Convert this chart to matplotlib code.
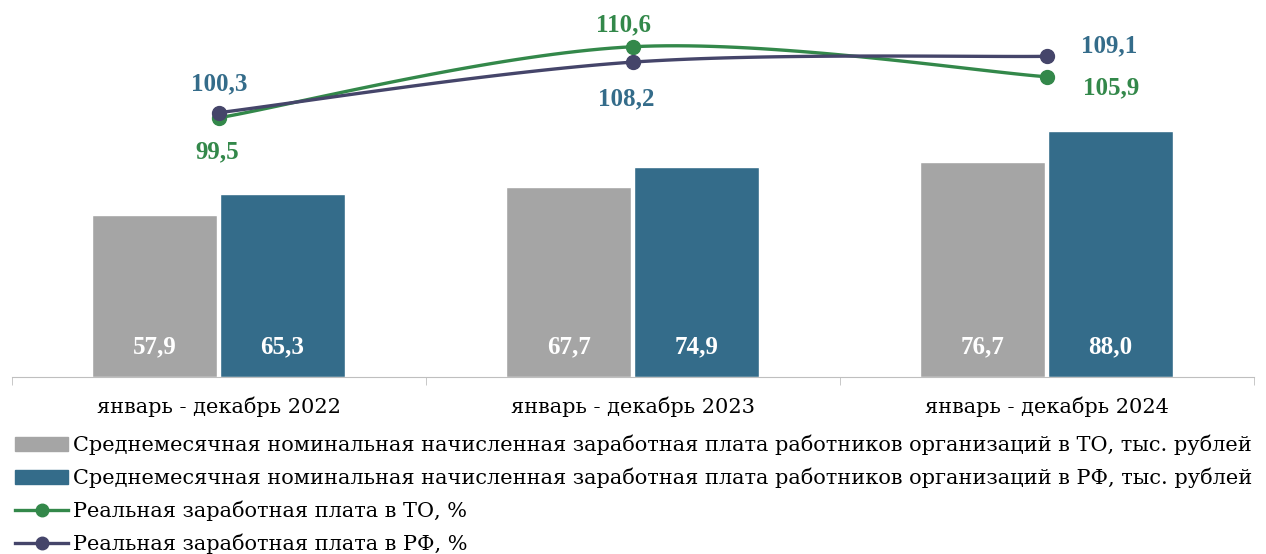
import numpy as np
import matplotlib.pyplot as plt
from matplotlib.lines import Line2D
from matplotlib.patches import Patch

plt.rcParams['font.family'] = ['DejaVu Serif']

periods = ['январь - декабрь 2022', 'январь - декабрь 2023', 'январь - декабрь 2024']
wage_to = [57.9, 67.7, 76.7]
wage_rf = [65.3, 74.9, 88.0]
real_to = [99.5, 110.6, 105.9]
real_rf = [100.3, 108.2, 109.1]

legend_names = [
    'Среднемесячная номинальная начисленная заработная плата работников организаций в ТО, тыс. рублей',
    'Среднемесячная номинальная начисленная заработная плата работников организаций в РФ, тыс. рублей',
    'Реальная заработная плата в ТО, %',
    'Реальная заработная плата в РФ, %',
]

GRAY = '#A5A5A5'
BLUE = '#346C8A'
GREEN = '#33884A'
NAVY = '#45456A'
NUM_FONT = 'Liberation Serif'


def smooth(xs, ys, n=40):
    # catmull-rom curve through the points, like excel's smoothed line
    p = np.column_stack([xs, ys]).astype(float)
    p = np.vstack([p[0], p, p[-1]])
    out = []
    t = np.linspace(0, 1, n)[:, None]
    for i in range(1, len(p) - 2):
        p0, p1, p2, p3 = p[i - 1], p[i], p[i + 1], p[i + 2]
        seg = 0.5 * ((2 * p1) + (-p0 + p2) * t + (2 * p0 - 5 * p1 + 4 * p2 - p3) * t ** 2
                     + (-p0 + 3 * p1 - 3 * p2 + p3) * t ** 3)
        out.append(seg)
    out = np.vstack(out)
    return out[:, 0], out[:, 1]


fig = plt.figure(figsize=(12.66, 5.54), dpi=100)
ax = fig.add_axes([12 / 1266, 177 / 554, 1242 / 1266, 377 / 554])
x = np.arange(len(periods))
w = 0.302
ax.bar(x - 0.155, wage_to, w, color=GRAY, edgecolor='white', linewidth=1)
ax.bar(x + 0.153, wage_rf, w, color=BLUE, edgecolor='white', linewidth=1)
for i in range(len(x)):
    ax.text(x[i] - 0.155, 10.8, f'{wage_to[i]:.1f}'.replace('.', ','), color='white',
            fontsize=18, fontweight='bold', ha='center', va='center', family=NUM_FONT)
    ax.text(x[i] + 0.153, 10.8, f'{wage_rf[i]:.1f}'.replace('.', ','), color='white',
            fontsize=18, fontweight='bold', ha='center', va='center', family=NUM_FONT)

ax.set_xlim(-0.5, 2.5)
ax.set_ylim(0, 134.6)
ax.set_yticks([])
for s in ['top', 'left', 'right']:
    ax.spines[s].set_visible(False)
ax.spines['bottom'].set_color('#BFBFBF')
ax.set_xticks(x)
ax.set_xticklabels(periods, fontsize=15)
ax.tick_params(axis='x', which='major', length=0, pad=14)
ax.set_xticks([-0.5, 0.5, 1.5, 2.5], minor=True)
ax.tick_params(axis='x', which='minor', length=6, color='#BFBFBF')

ax2 = ax.twinx()
ax2.set_ylim(59.0, 117.9)
ax2.axis('off')
sx, sy = smooth(x, real_to)
ax2.plot(sx, sy, color=GREEN, lw=2.4)
ax2.plot(x, real_to, 'o', color=GREEN, ms=10)
sx, sy = smooth(x, real_rf)
ax2.plot(sx, sy, color=NAVY, lw=2.4)
ax2.plot(x, real_rf, 'o', color=NAVY, ms=10)

to_off = [(-2, -34), (-9, 22), (64, -11)]
rf_off = [(0, 29), (-7, -37), (62, 11)]
for i in range(len(x)):
    ax2.annotate(f'{real_to[i]:.1f}'.replace('.', ','), (x[i], real_to[i]), xytext=to_off[i],
                 textcoords='offset pixels', ha='center', va='center', color=GREEN,
                 fontsize=18, fontweight='bold', family=NUM_FONT)
    ax2.annotate(f'{real_rf[i]:.1f}'.replace('.', ','), (x[i], real_rf[i]), xytext=rf_off[i],
                 textcoords='offset pixels', ha='center', va='center', color=BLUE,
                 fontsize=18, fontweight='bold', family=NUM_FONT)

handles = [
    Patch(color=GRAY),
    Patch(color=BLUE),
    Line2D([], [], color=GREEN, lw=2.4, marker='o', ms=9),
    Line2D([], [], color=NAVY, lw=2.4, marker='o', ms=9),
]
fig.legend(handles, legend_names, loc='upper left', bbox_to_anchor=(0.012, 0.215),
           frameon=False, fontsize=15, handlelength=2.55, handletextpad=0.24,
           labelspacing=0.6, borderaxespad=0, borderpad=0)

fig.savefig('out.png', dpi=100)
